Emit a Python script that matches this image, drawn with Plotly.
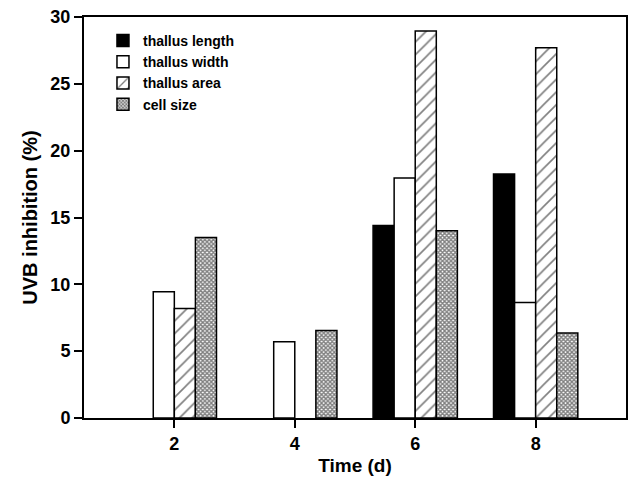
import plotly.graph_objects as go

times = [2, 4, 6, 8]
thallus_length = [None, None, 14.4, 18.25]
thallus_width = [9.45, 5.7, 17.95, 8.65]
thallus_area = [8.2, None, 28.95, 27.7]
cell_size = [13.5, 6.55, 14.0, 6.35]

series = [
    ("thallus length", thallus_length, dict(color="black")),
    ("thallus width", thallus_width, dict(color="white")),
    ("thallus area", thallus_area, dict(color="white", pattern=dict(shape="/", fgcolor="black", bgcolor="white", size=9, solidity=0.18))),
    ("cell size", cell_size, dict(color="white", pattern=dict(shape="x", fgcolor="black", bgcolor="white", size=3, solidity=0.7))),
]

fig = go.Figure()
for name, vals, mk in series:
    mk = dict(mk)
    mk["line"] = dict(color="black", width=1.5)
    fig.add_trace(go.Bar(x=times, y=vals, name=name, marker=mk, width=0.35))

fontfam = "Arial, Liberation Sans, sans-serif"
fig.update_layout(
    width=630, height=479,
    margin=dict(l=84, r=2, t=17, b=61),
    plot_bgcolor="white", paper_bgcolor="white",
    barmode="group", bargap=0.3, bargroupgap=0,
    font=dict(family=fontfam, color="black"),
    showlegend=True,
    legend=dict(x=0.035, y=0.98, xanchor="left", yanchor="top",
                bgcolor="rgba(0,0,0,0)", font=dict(size=14, weight="bold"),
                tracegroupgap=0, itemwidth=30),
    xaxis=dict(range=[0.5, 9.5], tickvals=times, ticktext=[str(t) for t in times],
               showgrid=False, zeroline=False, showline=True, linecolor="black", linewidth=2,
               mirror=True, ticks="outside", ticklen=8, tickwidth=2, tickcolor="black",
               tickfont=dict(size=18, weight="bold"),
               title=dict(text="Time (d)", font=dict(size=19, weight="bold"), standoff=6)),
    yaxis=dict(range=[0, 30], tickvals=[0, 5, 10, 15, 20, 25, 30],
               showgrid=False, zeroline=False, showline=True, linecolor="black", linewidth=2,
               mirror=True, ticks="outside", ticklen=8, tickwidth=2, tickcolor="black",
               tickfont=dict(size=18, weight="bold"),
               title=dict(text="UVB inhibition (%)", font=dict(size=20, weight="bold"), standoff=7)),
)

fig.write_html("out.html")
